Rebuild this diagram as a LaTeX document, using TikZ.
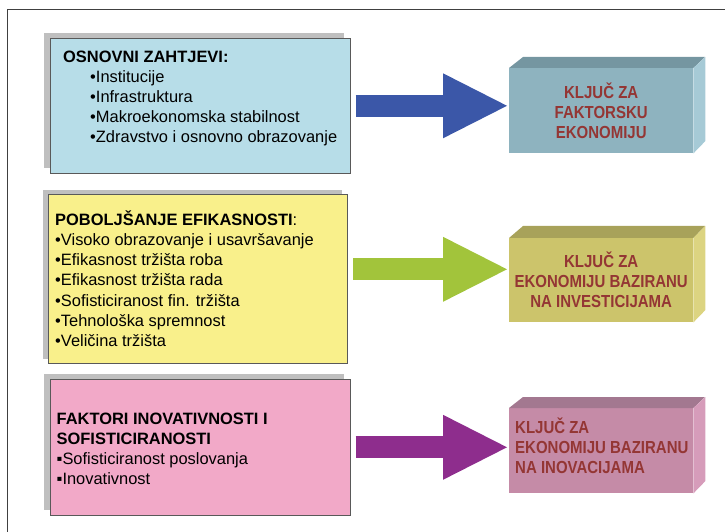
\documentclass[tikz,border=0pt]{standalone}
\usepackage{fontspec}
\setmainfont{Liberation Sans}
\newfontfamily\keyfont[FakeStretch=0.86]{Liberation Sans}
\usetikzlibrary{arrows.meta,shadows}

\definecolor{framegray}{HTML}{404040}
\definecolor{shadowgray}{HTML}{BFBFBF}
\definecolor{osnblue}{HTML}{B7DDE8}
\definecolor{pobyellow}{HTML}{F9F08B}
\definecolor{fakpink}{HTML}{F2A9C8}
\definecolor{keyred}{HTML}{943634}
\definecolor{arrblue}{HTML}{3B57A8}
\definecolor{arrgreen}{HTML}{A2C43B}
\definecolor{arrpurple}{HTML}{8E2D8D}
\definecolor{kfront1}{HTML}{8EB3BF}
\definecolor{ktop1}{HTML}{7596A1}
\definecolor{kside1}{HTML}{A6CAD6}
\definecolor{kfront2}{HTML}{CCC46B}
\definecolor{ktop2}{HTML}{A8A25A}
\definecolor{kside2}{HTML}{DCD481}
\definecolor{kfront3}{HTML}{C58BA7}
\definecolor{ktop3}{HTML}{A37890}
\definecolor{kside3}{HTML}{D69CBA}

\begin{document}
\begin{tikzpicture}[x=1bp, y=-1bp,
    every node/.style={inner sep=0pt},
    infobox/.style={draw=black!65, line width=0.6bp, anchor=north west, minimum width=300bp},
    boxshadow/.style={drop shadow={shadow xshift=-5.5bp, shadow yshift=#1, fill=shadowgray, opacity=1}},
    item/.style={anchor=base west, font=\fontsize{16.5}{20}\selectfont},
    title/.style={anchor=base west, font=\bfseries\fontsize{16.5}{20}\selectfont},
    keyface/.style={anchor=north west, minimum width=184bp, minimum height=85bp, text=keyred,
        font=\keyfont\bfseries\fontsize{17.5}{20}\selectfont, align=center},
    blockarrow/.style={line width=22bp, shorten <=5.5bp, shorten >=2bp,
        -{Triangle[length=64bp, width=65bp, line width=0pt]}}
]
    \useasboundingbox (0,0) rectangle (725,532);
    \draw[framegray, line width=0.8bp] (7,532) |- (725,9);

    % osnovni zahtjevi
    \node[infobox, fill=osnblue, minimum height=135bp, boxshadow=5.5bp] (osn) at (49.5,38) {};
    \node[title] (osn-t) at (63,63) {OSNOVNI ZAHTJEVI:};
    \foreach \t [count=\i] in {Institucije, Infrastruktura, Makroekonomska stabilnost, Zdravstvo i osnovno obrazovanje}
        \node[item] (osn-\i) at (90,63+20*\i) {•\t};

    % poboljsanje efikasnosti
    \node[infobox, fill=pobyellow, minimum width=299bp, minimum height=169bp, boxshadow=4bp] (pob) at (48,194) {};
    \node[title] (pob-t) at (55,226) {POBOLJŠANJE EFIKASNOSTI\mdseries:};
    \foreach \t [count=\i] in {Visoko obrazovanje i usavršavanje, Efikasnost tržišta roba, Efikasnost tržišta rada,
        Sofisticiranost fin. tržišta, Tehnološka spremnost, Veličina tržišta}
        \node[item] (pob-\i) at (55,226+20*\i) {•\t};

    % faktori inovativnosti
    \node[infobox, fill=fakpink, minimum height=136bp, boxshadow=5bp] (fak) at (49.5,379) {};
    \node[title] (fak-t1) at (56.5,424) {FAKTORI INOVATIVNOSTI I};
    \node[title] (fak-t2) at (56.5,444.5) {SOFISTICIRANOSTI};
    \foreach \t [count=\i] in {Sofisticiranost poslovanja, Inovativnost}
        \node[item] (fak-\i) at (56.5,444.5+20*\i) {▪\t};

    % kljuc boxes
    \node[keyface, fill=kfront1] (k1) at (509,68) {KLJUČ ZA\\FAKTORSKU\\ EKONOMIJU};
    \fill[ktop1] (k1.north west) -- ++(14,-11) -- ++(182,0) -- (k1.north east) -- cycle;
    \fill[kside1] (k1.north east) -- ++(12,-11) -- ++(0,84) -- (k1.south east) -- cycle;

    \node[keyface, fill=kfront2, minimum height=84bp] (k2) at (509,238) {KLJUČ ZA\\EKONOMIJU BAZIRANU\\NA INVESTICIJAMA};
    \fill[ktop2] (k2.north west) -- ++(14,-12) -- ++(182,0) -- (k2.north east) -- cycle;
    \fill[kside2] (k2.north east) -- ++(12,-12) -- ++(0,84) -- (k2.south east) -- cycle;

    \node[keyface, fill=kfront3] (k3) at (509,408) {};
    \node[anchor=west, align=left, text=keyred, font=\keyfont\bfseries\fontsize{17.5}{20}\selectfont]
        (k3-t) at ([xshift=6bp, yshift=5bp]k3.west) {KLJUČ ZA\\EKONOMIJU BAZIRANU\\NA INOVACIJAMA};
    \fill[ktop3] (k3.north west) -- ++(14,-11) -- ++(182,0) -- (k3.north east) -- cycle;
    \fill[kside3] (k3.north east) -- ++(12,-11) -- ++(0,84) -- (k3.south east) -- cycle;

    % arrows
    \draw[blockarrow, color=arrblue] (osn.east) -- (osn.east -| k1.west);
    \coordinate (pob-out) at ([yshift=9.5bp]pob.east);
    \draw[blockarrow, color=arrgreen] (pob-out) -- (pob-out -| k2.west);
    \draw[blockarrow, color=arrpurple] (fak.east) -- (fak.east -| k3.west);
\end{tikzpicture}
\end{document}
